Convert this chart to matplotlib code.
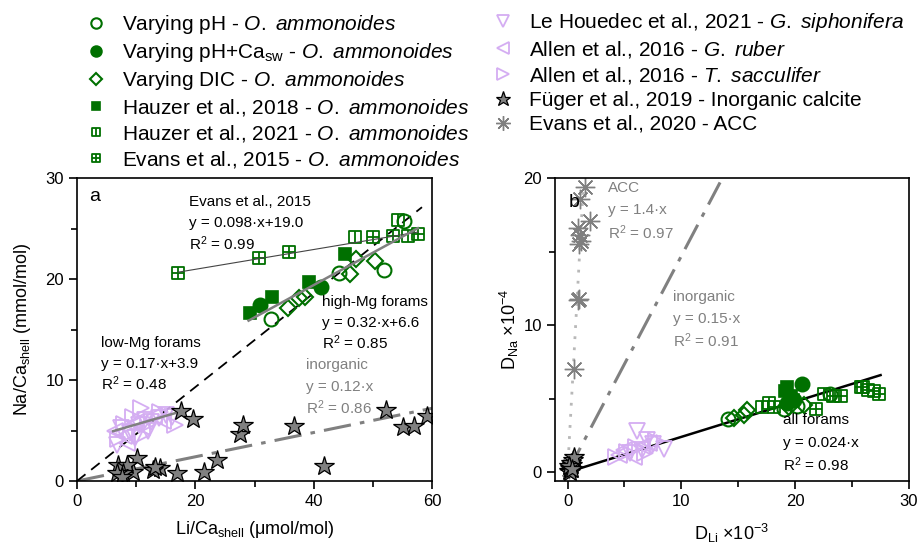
import numpy as np
import matplotlib
matplotlib.use('Agg')
import matplotlib.pyplot as plt
from matplotlib.path import Path
from matplotlib.lines import Line2D

plt.rcParams['font.family'] = ['Liberation Sans', 'DejaVu Sans']
plt.rcParams['mathtext.fontset'] = 'custom'
plt.rcParams['mathtext.rm'] = 'Liberation Sans'
plt.rcParams['mathtext.it'] = 'Liberation Sans:italic'
plt.rcParams['mathtext.bf'] = 'Liberation Sans:bold'

# ---------------- panel a : Na/Ca vs Li/Ca ----------------
ph_x_a = [32.8, 44.3, 51.9, 55.3]
ph_y_a = [16.0, 20.6, 20.9, 25.7]
phca_x_a = [31.0, 41.2]
phca_y_a = [17.4, 19.2]
dic_x_a = [35.6, 37.5, 38.6, 46.1, 47.1, 50.3]
dic_y_a = [17.1, 18.1, 18.2, 20.5, 22.0, 21.8]
h18_x_a = [29.2, 32.9, 39.2, 45.3]
h18_y_a = [16.6, 18.2, 19.7, 22.5]
h21_x_a = [47.0, 54.2, 55.9]
h21_y_a = [24.2, 25.8, 24.3]
ev15_x_a = [17.1, 30.7, 35.9, 50.0, 53.4, 57.6]
ev15_y_a = [20.6, 22.1, 22.7, 24.2, 24.3, 24.5]
leh_x_a = [7.5, 9.0, 10.5, 11.5, 12.5, 13.8, 15.0, 16.0, 9.8, 12.0, 6.8]
leh_y_a = [5.2, 4.8, 5.5, 6.0, 5.8, 6.2, 6.5, 6.3, 4.3, 5.0, 3.6]
rub_x_a = [6.5, 8.0, 10.0, 11.0, 13.0, 14.5, 8.5]
rub_y_a = [5.0, 4.5, 5.8, 5.3, 6.4, 5.9, 3.8]
sac_x_a = [7.0, 9.5, 12.0, 14.0, 16.5, 11.0, 8.0, 10.8]
sac_y_a = [4.2, 6.3, 5.6, 6.8, 5.5, 4.6, 5.6, 7.2]
fug_x_a = [17.6, 19.6, 27.5, 28.1, 36.6, 52.2, 55.1, 56.9, 59.2, 41.7, 23.7, 21.4,
           16.9, 14.1, 12.9, 13.2, 10.1, 9.5, 7.0, 8.4, 7.8, 6.8, 7.6]
fug_y_a = [6.9, 6.1, 4.7, 5.5, 5.4, 7.0, 5.3, 5.4, 6.4, 1.5, 2.1, 0.9,
           0.8, 1.3, 1.1, 1.4, 2.3, 0.9, 1.6, 1.6, 0.8, 0.8, 0.4]

# ---------------- panel b : D_Na vs D_Li ----------------
ph_x_b = [14.1, 19.0, 23.1, 20.2]
ph_y_b = [3.6, 4.3, 5.3, 4.5]
phca_x_b = [20.6, 19.3, 19.9]
phca_y_b = [6.0, 4.7, 4.9]
dic_x_b = [14.6, 15.5, 15.8, 20.8, 19.5]
dic_y_b = [3.7, 3.9, 4.2, 4.6, 4.4]
h18_x_b = [19.3, 19.1, 19.6, 19.8]
h18_y_b = [5.8, 5.5, 5.2, 4.9]
h21_x_b = [17.1, 17.7, 22.5, 26.0]
h21_y_b = [4.4, 4.7, 5.3, 5.8]
ev15_x_b = [18.1, 21.8, 24.0, 25.8, 26.4, 26.9, 27.4, 23.3]
ev15_y_b = [4.4, 4.3, 5.2, 5.8, 5.6, 5.5, 5.3, 5.2]
leh_x_b = [6.1, 7.0, 7.5, 8.5, 6.5, 5.5]
leh_y_b = [2.8, 2.2, 1.9, 1.6, 1.5, 1.3]
rub_x_b = [4.5, 5.0, 5.8, 6.5, 7.2]
rub_y_b = [1.2, 1.5, 1.0, 1.8, 2.0]
sac_x_b = [4.3, 5.2, 6.0, 6.8, 7.8]
sac_y_b = [1.0, 1.4, 1.7, 1.3, 2.1]
fug_x_b = [0.1, 0.2, 0.3, 0.4, 0.5, 0.2, 0.3, 0.6, 0.1, 0.4]
fug_y_b = [0.1, 0.3, 0.2, 0.5, 0.8, 0.0, 0.6, 1.0, 0.4, 0.2]
acc_x_b = [1.5, 1.06, 1.94, 0.9, 1.06, 1.15, 1.0, 1.0, 0.9, 0.6, 0.1, 0.2]
acc_y_b = [19.4, 18.6, 17.1, 16.6, 16.1, 15.7, 15.5, 11.8, 11.7, 7.0, 0.2, 0.4]

GREEN = '#007000'
PURPLE = '#d4adf2'
GRAY = '#808080'

# custom square markers
M, L, C = Path.MOVETO, Path.LINETO, Path.CLOSEPOLY
sq = [(-1, -1), (1, -1), (1, 1), (-1, 1), (-1, -1)]
sq_codes = [M, L, L, L, C]
box_cross = Path(sq + [(0, -1), (0, 1), (-1, 0), (1, 0)],
                 sq_codes + [M, L, M, L])
box_bar = Path(sq + [(0, -1), (0, 1)], sq_codes + [M, L])

styles = {
    'ph': dict(marker='o', mfc='none', mec=GREEN, ms=10, mew=1.5),
    'phca': dict(marker='o', mfc=GREEN, mec=GREEN, ms=10, mew=1.5),
    'dic': dict(marker='D', mfc='none', mec=GREEN, ms=8, mew=1.5),
    'h18': dict(marker='s', mfc=GREEN, mec=GREEN, ms=8, mew=1.2),
    'h21': dict(marker=box_bar, mfc='none', mec=GREEN, ms=8.5, mew=1.3),
    'ev15': dict(marker=box_cross, mfc='none', mec=GREEN, ms=8.5, mew=1.3),
    'leh': dict(marker='v', mfc='none', mec=PURPLE, ms=11, mew=1.3),
    'rub': dict(marker='<', mfc='none', mec=PURPLE, ms=11, mew=1.3),
    'sac': dict(marker='>', mfc='none', mec=PURPLE, ms=11, mew=1.3),
    'fug': dict(marker='*', mfc=GRAY, mec='black', ms=15, mew=0.9),
    'acc': dict(marker=(8, 2, 0), mfc='none', mec=GRAY, ms=14, mew=1.0),
}

fig = plt.figure(figsize=(9.21, 5.45), dpi=100)
ax_a = fig.add_axes([0.0836, 0.1174, 0.3855, 0.556])
ax_b = fig.add_axes([0.6026, 0.1174, 0.3844, 0.556])

# panel a
xx = np.array([0, 60])
ax_a.plot(xx, 0.12 * xx, color=GRAY, lw=2.2, dashes=(9, 3, 1.5, 3), zorder=1)
ax_a.plot([0, 58.3], [0, 0.465 * 58.3], color='black', lw=1.3, dashes=(6, 4), zorder=1)
ax_a.plot(leh_x_a, leh_y_a, ls='none', **styles['leh'])
ax_a.plot(rub_x_a, rub_y_a, ls='none', **styles['rub'])
ax_a.plot(sac_x_a, sac_y_a, ls='none', **styles['sac'])
ax_a.plot([6.1, 16.6], [0.17 * 6.1 + 3.9, 0.17 * 16.6 + 3.9], color=GRAY, lw=1.8)
ax_a.plot(fug_x_a, fug_y_a, ls='none', **styles['fug'])
ax_a.plot(ev15_x_a, ev15_y_a, ls='none', **styles['ev15'])
ax_a.plot(h21_x_a, h21_y_a, ls='none', **styles['h21'])
ax_a.plot([17.1, 57.6], [0.098 * 17.1 + 19.0, 0.098 * 57.6 + 19.0], color='#444444', lw=0.8)
ax_a.plot(h18_x_a, h18_y_a, ls='none', **styles['h18'])
ax_a.plot(phca_x_a, phca_y_a, ls='none', **styles['phca'])
ax_a.plot(dic_x_a, dic_y_a, ls='none', **styles['dic'])
ax_a.plot(ph_x_a, ph_y_a, ls='none', **styles['ph'])
ax_a.plot([29.0, 57.6], [0.32 * 29.0 + 6.6, 0.32 * 57.6 + 6.6], color=GRAY, lw=1.8)

ax_a.set_xlim(0, 60)
ax_a.set_ylim(0, 30)
ax_a.set_xticks([0, 20, 40, 60])
ax_a.set_xticks([10, 30, 50], minor=True)
ax_a.set_yticks([0, 10, 20, 30])
ax_a.set_yticks([5, 15, 25], minor=True)
ax_a.set_xlabel('Li/Ca$_{\\rm shell}$ (μmol/mol)', fontsize=13)
ax_a.set_ylabel('Na/Ca$_{\\rm shell}$ (mmol/mol)', fontsize=13)
ax_a.xaxis.set_label_coords(0.5, -0.125)
ax_a.yaxis.set_label_coords(-0.125, 0.5)

tk = dict(fontsize=11)
ax_a.text(0.035, 0.94, 'a', transform=ax_a.transAxes, fontsize=14, va='center')
for i, s in enumerate(['Evans et al., 2015', 'y = 0.098·x+19.0', 'R$^2$ = 0.99']):
    ax_a.text((189 - 77) / 355, (481 - 202 - 21 * i) / 303, s,
              transform=ax_a.transAxes, va='center', **tk)
for i, s in enumerate(['high-Mg forams', 'y = 0.32·x+6.6', 'R$^2$ = 0.85']):
    ax_a.text((322 - 77) / 355, (481 - 302 - 20.5 * i) / 303, s,
              transform=ax_a.transAxes, va='center', **tk)
for i, s in enumerate(['low-Mg forams', 'y = 0.17·x+3.9', 'R$^2$ = 0.48']):
    ax_a.text((101 - 77) / 355, (481 - 343 - 20.5 * i) / 303, s,
              transform=ax_a.transAxes, va='center', **tk)
for i, s in enumerate(['inorganic', 'y = 0.12·x', 'R$^2$ = 0.86']):
    ax_a.text((306 - 77) / 355, (481 - 365 - 21.5 * i) / 303, s, color=GRAY,
              transform=ax_a.transAxes, va='center', **tk)

# panel b
ax_b.plot([0, 1.4], [0, 14 * 1.4], color='#b8b8b8', lw=2, ls=(0, (1, 3)), zorder=1)
ax_b.plot([0, 13.4], [0, 1.47 * 13.4], color=GRAY, lw=2.2, dashes=(9, 3, 1.5, 3), zorder=1)
ax_b.plot([0, 27.5], [0, 0.24 * 27.5], color='black', lw=1.8, zorder=1)
ax_b.plot(acc_x_b, acc_y_b, ls='none', **styles['acc'])
ax_b.plot(fug_x_b, fug_y_b, ls='none', **styles['fug'])
ax_b.plot(leh_x_b, leh_y_b, ls='none', **styles['leh'])
ax_b.plot(rub_x_b, rub_y_b, ls='none', **styles['rub'])
ax_b.plot(sac_x_b, sac_y_b, ls='none', **styles['sac'])
ax_b.plot(ev15_x_b, ev15_y_b, ls='none', **styles['ev15'])
ax_b.plot(h21_x_b, h21_y_b, ls='none', **styles['h21'])
ax_b.plot(h18_x_b, h18_y_b, ls='none', **styles['h18'])
ax_b.plot(phca_x_b, phca_y_b, ls='none', **styles['phca'])
ax_b.plot(dic_x_b, dic_y_b, ls='none', **styles['dic'])
ax_b.plot(ph_x_b, ph_y_b, ls='none', **styles['ph'])

ax_b.set_xlim(-1.1, 30)
ax_b.set_ylim(-0.6, 20)
ax_b.set_xticks([0, 10, 20, 30])
ax_b.set_xticks([5, 15, 25], minor=True)
ax_b.set_yticks([0, 10, 20])
ax_b.set_yticks([5, 15], minor=True)
ax_b.set_xlabel('D$_{\\rm Li}$ ×10$^{-3}$', fontsize=13)
ax_b.set_ylabel('D$_{\\rm Na}$ ×10$^{-4}$', fontsize=13)
ax_b.xaxis.set_label_coords(0.5, -0.135)
ax_b.yaxis.set_label_coords(-0.095, 0.5)

ax_b.text(0.04, 0.92, 'b', transform=ax_b.transAxes, fontsize=14, va='center')
for i, s in enumerate(['ACC', 'y = 1.4·x', 'R$^2$ = 0.97']):
    ax_b.text((608 - 555) / 354, (481 - 188 - 22.5 * i) / 303, s, color=GRAY,
              transform=ax_b.transAxes, va='center', **tk)
for i, s in enumerate(['inorganic', 'y = 0.15·x', 'R$^2$ = 0.91']):
    ax_b.text((673 - 555) / 354, (481 - 297 - 22 * i) / 303, s, color=GRAY,
              transform=ax_b.transAxes, va='center', **tk)
for i, s in enumerate(['all forams', 'y = 0.024·x', 'R$^2$ = 0.98']):
    ax_b.text((783 - 555) / 354, (481 - 420 - 22.5 * i) / 303, s,
              transform=ax_b.transAxes, va='center', **tk)

for ax in (ax_a, ax_b):
    for sp in ax.spines.values():
        sp.set_linewidth(1.2)
    ax.tick_params(which='major', direction='out', length=6, width=1.2, labelsize=12)
    ax.tick_params(which='minor', direction='out', length=4, width=1.2)

# legends
def h(key):
    return Line2D([], [], ls='none', **styles[key])

left_labels = ['Varying pH - $\\it{O.\\ ammonoides}$',
               'Varying pH+Ca$_{\\rm sw}$ - $\\it{O.\\ ammonoides}$',
               'Varying DIC - $\\it{O.\\ ammonoides}$',
               'Hauzer et al., 2018 - $\\it{O.\\ ammonoides}$',
               'Hauzer et al., 2021 - $\\it{O.\\ ammonoides}$',
               'Evans et al., 2015 - $\\it{O.\\ ammonoides}$']
left_keys = ['ph', 'phca', 'dic', 'h18', 'h21', 'ev15']
right_labels = ['Le Houedec et al., 2021 - $\\it{G.\\ siphonifera}$',
                'Allen et al., 2016 - $\\it{G.\\ ruber}$',
                'Allen et al., 2016 - $\\it{T.\\ sacculifer}$',
                'Füger et al., 2019 - Inorganic calcite',
                'Evans et al., 2020 - ACC']
right_keys = ['leh', 'rub', 'sac', 'fug', 'acc']

leg_kw = dict(loc='upper left', frameon=False, fontsize=15, handlelength=1.0,
              handletextpad=0.73, labelspacing=0.24, borderpad=0, borderaxespad=0,
              markerscale=0.75)
fig.legend([h(k) for k in left_keys], left_labels,
           bbox_to_anchor=(86 / 921, 1 - 13 / 545), **leg_kw)
fig.legend([h(k) for k in right_keys], right_labels,
           bbox_to_anchor=(492.5 / 921, 1 - 11 / 545), **leg_kw)

fig.savefig('out.png', dpi=100)
